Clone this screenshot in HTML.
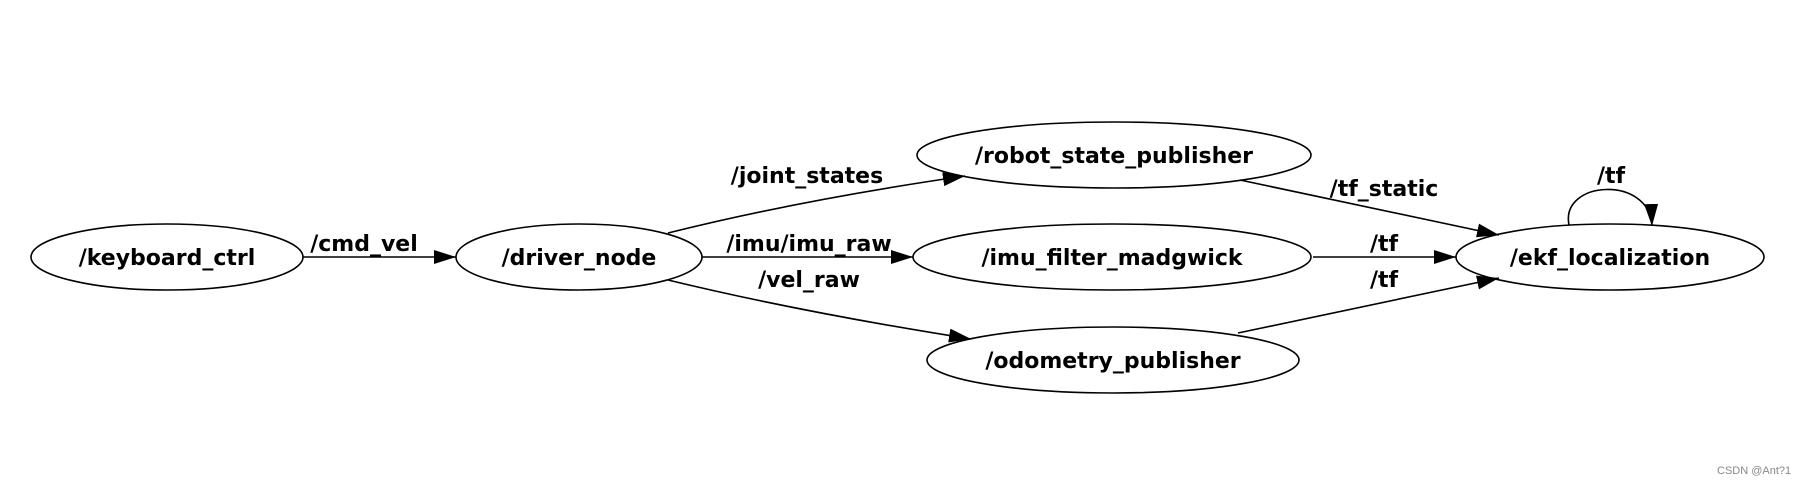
<!DOCTYPE html>
<html><head><meta charset="utf-8"><style>
html,body{margin:0;padding:0;background:#fff;}
svg{display:block;}
text{font-family:"DejaVu Sans","Liberation Sans",sans-serif;font-weight:bold;font-size:22px;fill:#000;}
</style></head><body>
<svg width="1801" height="482" viewBox="0 0 1801 482" xmlns="http://www.w3.org/2000/svg">
<defs>
<marker id="a" markerWidth="22" markerHeight="14" refX="22" refY="7" orient="auto" markerUnits="userSpaceOnUse">
<path d="M0,0 L22,7 L0,14 Z" fill="#000"/>
</marker>
</defs>
<g fill="none" stroke="#000" stroke-width="1.6">
<ellipse cx="167" cy="257" rx="136" ry="33"/>
<ellipse cx="579" cy="257" rx="123" ry="33"/>
<ellipse cx="1114" cy="155" rx="197" ry="33"/>
<ellipse cx="1112" cy="257" rx="199" ry="33"/>
<ellipse cx="1113" cy="360" rx="186" ry="33"/>
<ellipse cx="1610" cy="257" rx="154" ry="33"/>
<path d="M303,257 L456,257" marker-end="url(#a)"/>
<path d="M668,233 Q800,200 965,176" marker-end="url(#a)"/>
<path d="M702,257 L913,257" marker-end="url(#a)"/>
<path d="M668,280 Q800,312 971,339" marker-end="url(#a)"/>
<path d="M1240,180 L1499,235" marker-end="url(#a)"/>
<path d="M1313,257 L1456,257" marker-end="url(#a)"/>
<path d="M1238,333 L1499,278" marker-end="url(#a)"/>
<path d="M1569,225 C1560,180 1650,175 1652,226" marker-end="url(#a)"/>
</g>
<text x="167" y="265" text-anchor="middle">/keyboard_ctrl</text>
<text x="579" y="265" text-anchor="middle">/driver_node</text>
<text x="1114" y="163" text-anchor="middle">/robot_state_publisher</text>
<text x="1112" y="265" text-anchor="middle">/imu_filter_madgwick</text>
<text x="1113" y="368" text-anchor="middle">/odometry_publisher</text>
<text x="1610" y="265" text-anchor="middle">/ekf_localization</text>
<text x="364" y="251" text-anchor="middle">/cmd_vel</text>
<text x="807" y="183" text-anchor="middle">/joint_states</text>
<text x="809" y="251" text-anchor="middle">/imu/imu_raw</text>
<text x="809" y="287" text-anchor="middle">/vel_raw</text>
<text x="1384" y="196" text-anchor="middle">/tf_static</text>
<text x="1384" y="251" text-anchor="middle">/tf</text>
<text x="1384" y="287" text-anchor="middle">/tf</text>
<text x="1611" y="183" text-anchor="middle">/tf</text>
<text x="1717" y="474" style="font-weight:normal;font-size:11px;fill:#888;font-family:'Liberation Sans',sans-serif;">CSDN @Ant?1</text>
</svg>
</body></html>
